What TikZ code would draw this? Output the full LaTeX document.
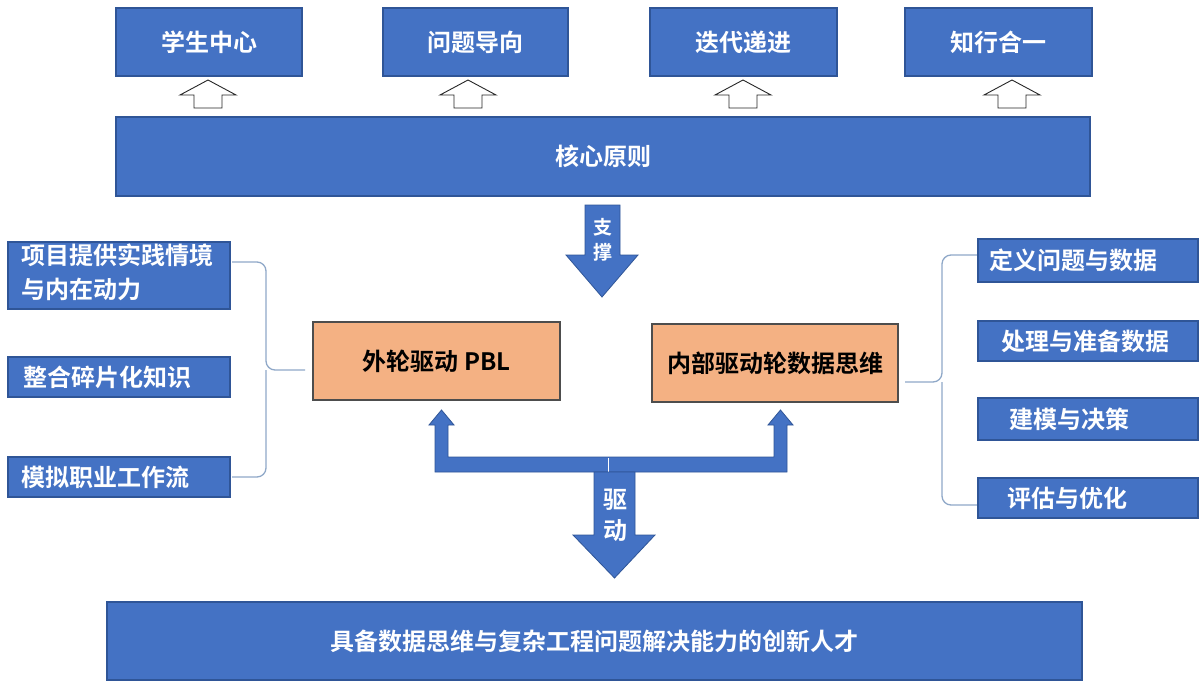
\documentclass[tikz,border=0pt]{standalone}
\usepackage{fontspec}
\setmainfont{Noto Sans CJK SC}[BoldFont={Noto Sans CJK SC Bold}]
\definecolor{bfill}{HTML}{4472C4}
\definecolor{bline}{HTML}{2F5597}
\definecolor{ofill}{HTML}{F4B183}
\definecolor{oline}{HTML}{4D4D4D}
\definecolor{brc}{HTML}{8FA8C8}
\tikzset{
  bluebox/.style={draw=bline, fill=bfill, line width=1.2pt, inner sep=0pt, text=white, font=\fontsize{24}{30}\selectfont\bfseries},
  orangebox/.style={draw=oline, fill=ofill, line width=1.2pt, inner sep=0pt, text=black, font=\fontsize{24}{30}\selectfont\bfseries},
  wtext/.style={inner sep=0pt, text=white, font=\fontsize{24}{30}\selectfont\bfseries},
  hollow/.style={draw=black!85, fill=white, line width=0.9pt, line join=miter},
  blockarrow/.style={draw=bline, fill=bfill, line width=0.8pt, line join=miter},
  bracestyle/.style={draw=brc, line width=1.3pt, rounded corners=9pt}
}
\begin{document}
\begin{tikzpicture}[x=1pt,y=-1pt]
\useasboundingbox[fill=white] (0,0) rectangle (1200,682);
% top principle boxes
\node[bluebox, minimum width=186pt, minimum height=68pt] (p1) at (209,42) {学生中心};
\node[bluebox, minimum width=185pt, minimum height=68pt] (p2) at (475.5,42) {问题导向};
\node[bluebox, minimum width=187pt, minimum height=68pt] (p3) at (743.5,42) {迭代递进};
\node[bluebox, minimum width=187pt, minimum height=68pt] (p4) at (998.5,42) {知行合一};
% core bar
\node[bluebox, minimum width=974pt, minimum height=79pt] (core) at (603,156.5) {核心原则};
% hollow up arrows
\foreach \cx in {208,468,743,1012}{
  \draw[hollow] (\cx-14,108) -- (\cx-14,95) -- (\cx-28,95) -- (\cx,80) -- (\cx+28,95) -- (\cx+14,95) -- (\cx+14,108) -- cycle;
}
% support arrow
\draw[blockarrow] (585,205) -- (620,205) -- (620,255) -- (638,255) -- (602,297) -- (566,255) -- (585,255) -- cycle;
\node[inner sep=0pt, text=white, align=center, font=\fontsize{19}{25}\selectfont\bfseries] (zc) at (602.5,240) {支\\撑};
% left boxes
\node[bluebox, minimum width=222pt, minimum height=67pt] (l1) at (119,275.5) {};
\node[wtext, anchor=north west, align=left, font=\fontsize{24}{34}\selectfont\bfseries] (l1t) at (21,244) {项目提供实践情境\\与内在动力};
\node[bluebox, minimum width=222pt, minimum height=40pt] (l2) at (119,377) {};
\node[wtext, anchor=west] (l2t) at (23,377) {整合碎片化知识};
\node[bluebox, minimum width=222pt, minimum height=40pt] (l3) at (119,477) {};
\node[wtext, anchor=west] (l3t) at (21,477) {模拟职业工作流};
% left brace
\coordinate (lbt) at (232,262);
\coordinate (lbb) at (232,477);
\coordinate (lbm) at (266,370);
\draw[bracestyle] (lbt) -- (266,262) -- (lbm) -- (305,370);
\draw[bracestyle] (lbb) -- (266,477) -- (lbm);
% orange boxes
\node[orangebox, minimum width=247pt, minimum height=78pt] (pbl) at (436.5,361) {外轮驱动 PBL};
\node[orangebox, minimum width=246pt, minimum height=78pt] (dt) at (775,363) {内部驱动轮数据思维};
% right brace
\coordinate (rbt) at (977,255);
\coordinate (rbb) at (977,505);
\coordinate (rbm) at (942,382);
\draw[bracestyle] (rbt) -- (942,255) -- (rbm) -- (905,382);
\draw[bracestyle] (rbb) -- (942,505) -- (rbm);
% right boxes
\node[bluebox, minimum width=220pt, minimum height=43pt] (r1) at (1088,260.5) {};
\node[wtext, anchor=west] (r1t) at (989,260.5) {定义问题与数据};
\node[bluebox, minimum width=220pt, minimum height=40pt] (r2) at (1088,341) {};
\node[wtext, anchor=west] (r2t) at (1001,341) {处理与准备数据};
\node[bluebox, minimum width=220pt, minimum height=42pt] (r3) at (1088,419) {};
\node[wtext, anchor=west] (r3t) at (1009,419) {建模与决策};
\node[bluebox, minimum width=220pt, minimum height=40pt] (r4) at (1088,498) {};
\node[wtext, anchor=west] (r4t) at (1007,498) {评估与优化};
% fork arrow
\draw[blockarrow] (435,472) -- (435,425) -- (429,425) -- (441.5,410) -- (454,425) -- (448,425) -- (448,457) -- (774,457) -- (774,425) -- (768,425) -- (780.5,410) -- (793,425) -- (787,425) -- (787,472) -- cycle;
\draw[white, line width=1pt] (608,458) -- (608,471.5);
% drive arrow
\draw[blockarrow] (594,472) -- (635,472) -- (635,535) -- (655,535) -- (614.5,578) -- (573,535) -- (594,535) -- cycle;
\node[inner sep=0pt, text=white, align=center, font=\fontsize{24}{31}\selectfont\bfseries] (qd) at (615,515) {驱\\动};
% bottom goal
\node[bluebox, minimum width=975pt, minimum height=78pt] (goal) at (594.5,641) {具备数据思维与复杂工程问题解决能力的创新人才};
\end{tikzpicture}
\end{document}
